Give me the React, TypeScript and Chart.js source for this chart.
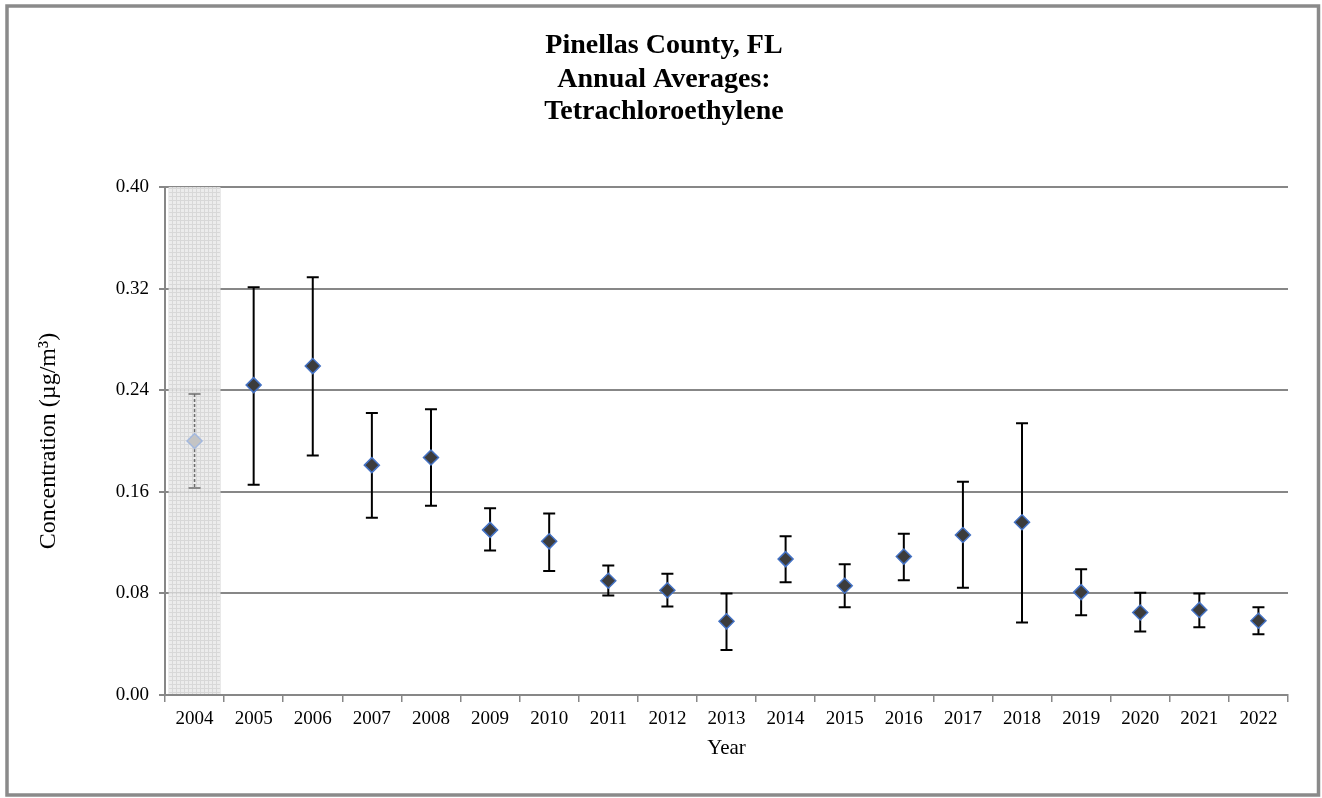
import React, { useEffect, useRef } from "react";
import { Chart, registerables } from "chart.js";

Chart.register(...registerables);

const years = ["2004", "2005", "2006", "2007", "2008", "2009", "2010", "2011", "2012", "2013", "2014", "2015", "2016", "2017", "2018", "2019", "2020", "2021", "2022"];
const means = [0.200, 0.244, 0.259, 0.181, 0.187, 0.130, 0.121, 0.090, 0.0825, 0.058, 0.107, 0.086, 0.109, 0.126, 0.136, 0.081, 0.065, 0.067, 0.0585];
const upperBounds = [0.237, 0.321, 0.329, 0.222, 0.225, 0.147, 0.143, 0.102, 0.0954, 0.080, 0.125, 0.103, 0.127, 0.168, 0.214, 0.099, 0.0806, 0.080, 0.069];
const lowerBounds = [0.163, 0.1655, 0.1886, 0.1395, 0.149, 0.1137, 0.0977, 0.0783, 0.0696, 0.0355, 0.0888, 0.0691, 0.0904, 0.0845, 0.057, 0.0628, 0.050, 0.0533, 0.0478];
const yTickValues = [0, 0.08, 0.16, 0.24, 0.32, 0.40];
const shadedYears = ["2004"];
const titleLines = ["Pinellas County, FL", "Annual Averages:", "Tetrachloroethylene"];
const yAxisTitle = "Concentration (\u00b5g/m\u00b3)";
const xAxisTitle = "Year";

const FONT = '"Liberation Serif", "DejaVu Serif", serif';
const GRID = "#878787";

function makePattern(ctx: CanvasRenderingContext2D) {
  const c = document.createElement("canvas");
  c.width = 4;
  c.height = 4;
  const p = c.getContext("2d")!;
  p.fillStyle = "#eaeaea";
  p.fillRect(0, 0, 4, 4);
  p.fillStyle = "#d4d4d4";
  p.fillRect(0, 0, 4, 1);
  p.fillRect(0, 0, 1, 4);
  return ctx.createPattern(c, "repeat");
}

const framePlugin = {
  id: "frame",
  beforeDraw(chart: any) {
    const ctx = chart.ctx;
    ctx.save();
    ctx.fillStyle = "#ffffff";
    ctx.fillRect(0, 0, chart.width, chart.height);
    ctx.restore();
  },
  afterDraw(chart: any) {
    const ctx = chart.ctx;
    ctx.save();
    ctx.strokeStyle = "#8a8a8a";
    ctx.lineWidth = 3.5;
    ctx.strokeRect(7, 6, 1311.5, 789);
    ctx.fillStyle = "#000";
    ctx.font = `bold 28px ${FONT}`;
    ctx.textAlign = "center";
    ctx.textBaseline = "alphabetic";
    const baselines = [53, 86.5, 119];
    titleLines.forEach((line, i) => ctx.fillText(line, 664, baselines[i]));
    ctx.restore();
  },
};

const bandPlugin = {
  id: "band",
  beforeDatasetsDraw(chart: any) {
    const ctx = chart.ctx;
    const xs = chart.scales.x;
    const area = chart.chartArea;
    const w = (xs.width / years.length) * 0.88;
    ctx.save();
    ctx.globalAlpha = 0.9;
    ctx.fillStyle = makePattern(ctx) || "#ebebeb";
    shadedYears.forEach((yr) => {
      const i = years.indexOf(yr);
      const cx = xs.getPixelForValue(i);
      ctx.fillRect(cx - w / 2, area.top, w, area.bottom - area.top - 1);
    });
    ctx.restore();
  },
};

const errorBarPlugin = {
  id: "errorBars",
  beforeDatasetsDraw(chart: any) {
    const ctx = chart.ctx;
    const xs = chart.scales.x;
    const ys = chart.scales.y;
    ctx.save();
    years.forEach((yr, i) => {
      const faded = shadedYears.includes(yr);
      const x = xs.getPixelForValue(i);
      const yt = ys.getPixelForValue(upperBounds[i]);
      const yb = ys.getPixelForValue(lowerBounds[i]);
      ctx.strokeStyle = faded ? "#6e6e6e" : "#000";
      ctx.lineWidth = faded ? 1.5 : 2;
      ctx.setLineDash(faded ? [3, 2] : []);
      ctx.beginPath();
      ctx.moveTo(x, yt);
      ctx.lineTo(x, yb);
      ctx.stroke();
      ctx.setLineDash([]);
      ctx.beginPath();
      ctx.moveTo(x - 6, yt);
      ctx.lineTo(x + 6, yt);
      ctx.moveTo(x - 6, yb);
      ctx.lineTo(x + 6, yb);
      ctx.stroke();
    });
    ctx.restore();
  },
};

export default function App() {
  const ref = useRef<HTMLCanvasElement>(null);
  useEffect(() => {
    if (!ref.current) return;
    const chart = new Chart(ref.current, {
      type: "line",
      data: {
        labels: years,
        datasets: [
          {
            data: means,
            showLine: false,
            pointStyle: "rectRot",
            pointRadius: 7.5,
            pointHoverRadius: 7.5,
            pointBorderWidth: 1.5,
            pointBackgroundColor: years.map((y) => (shadedYears.includes(y) ? "#c4c4c4" : "#3c3c3c")),
            pointBorderColor: years.map((y) => (shadedYears.includes(y) ? "#a3b8de" : "#4472c4")),
          },
        ],
      },
      options: {
        animation: false,
        responsive: false,
        events: [],
        layout: { padding: { top: 187, right: 34, bottom: 0, left: 0 } },
        plugins: { legend: { display: false }, tooltip: { enabled: false }, title: { display: false } },
        scales: {
          x: {
            type: "category",
            offset: true,
            grid: { display: true, drawOnChartArea: false, drawTicks: true, tickLength: 7, offset: true, color: GRID, lineWidth: 1.5 },
            border: { display: true, color: GRID, width: 2 },
            ticks: { color: "#000", font: { family: FONT, size: 19 }, padding: 6, maxRotation: 0, autoSkip: false },
            title: { display: true, text: xAxisTitle, color: "#000", font: { family: FONT, size: 21 }, padding: { top: 4, bottom: 37 } },
            afterFit: (s: any) => {
              s.height = 103;
            },
          },
          y: {
            min: 0,
            max: 0.4,
            afterBuildTicks: (s: any) => {
              s.ticks = yTickValues.map((v) => ({ value: v }));
            },
            grid: { color: GRID, lineWidth: 2, tickLength: 6, drawTicks: true },
            border: { display: true, color: GRID, width: 2 },
            ticks: { color: "#000", font: { family: FONT, size: 19 }, padding: 10, callback: (v: any) => Number(v).toFixed(2) },
            title: { display: true, text: yAxisTitle, color: "#000", font: { family: FONT, size: 24 }, padding: { top: 34, bottom: 0 } },
            afterFit: (s: any) => {
              s.width = 165;
            },
          },
        },
      },
      plugins: [framePlugin, bandPlugin, errorBarPlugin],
    });
    return () => chart.destroy();
  }, []);
  return (
    <div style={{ position: "fixed", left: 0, top: 0, width: 1322, height: 798 }}>
      <canvas ref={ref} width={1322} height={798} style={{ display: "block" }} />
    </div>
  );
}
